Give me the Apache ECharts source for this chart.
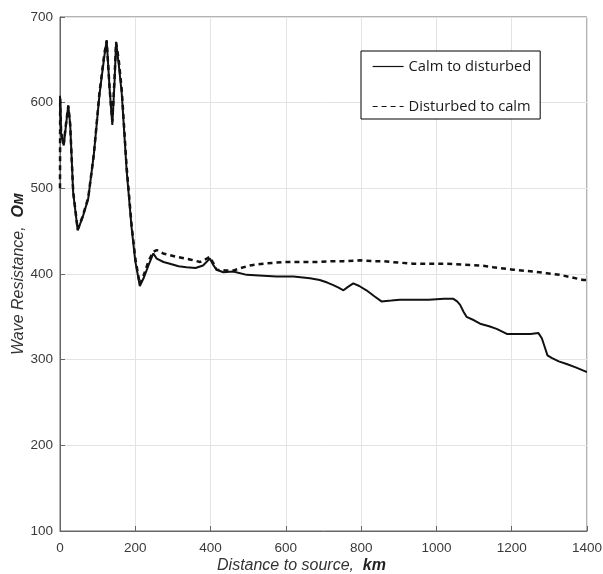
<!DOCTYPE html>
<html>
<head>
<meta charset="utf-8">
<script src="https://cdn.jsdelivr.net/npm/echarts@6/dist/echarts.min.js"></script>
<style>
  html, body { margin: 0; padding: 0; background: #fff; }
  #chart { width: 603px; height: 574px; }
</style>
</head>
<body>
<div id="chart"></div>
<script>
// [km, Ом]
const calmToDisturbed = [
  [0, 608], [3, 565], [6, 557], [10, 550], [15, 570], [22, 597], [27, 575], [35, 495],
  [47, 451], [60, 466], [75, 488], [90, 540], [105, 610], [118, 655], [124, 673], [132, 615],
  [139, 574], [145, 625], [149, 671], [156, 645], [164, 611], [177, 521], [190, 455], [200, 415],
  [212, 386], [222, 395], [235, 410], [248, 424], [257, 418], [275, 414], [292, 412], [315, 409],
  [336, 408], [360, 407], [380, 410], [398, 418], [408, 410], [416, 405], [434, 402], [460, 403],
  [496, 399], [540, 398], [575, 397], [620, 397], [664, 395], [690, 393], [710, 390], [726, 387],
  [740, 384], [753, 381], [765, 385], [779, 389], [795, 386], [814, 381], [835, 374], [854, 368],
  [880, 369], [903, 370], [940, 370], [980, 370], [1020, 371], [1045, 371], [1055, 368], [1063, 364],
  [1072, 356], [1080, 350], [1100, 346], [1116, 342], [1140, 339], [1160, 336], [1187, 330], [1220, 330],
  [1250, 330], [1271, 331], [1280, 325], [1289, 313], [1295, 305], [1306, 302], [1325, 298], [1346, 295],
  [1370, 291], [1397, 286], [1400, 286]
]
const disturbedToCalm = [
  [0, 500], [0.5, 605], [3, 565], [6, 560], [10, 552], [15, 572], [22, 596], [27, 575], [35, 496],
  [47, 452], [60, 467], [75, 489], [90, 540], [105, 612], [118, 658], [124, 672], [132, 615],
  [139, 578], [145, 630], [149, 670], [156, 650], [164, 615], [177, 525], [190, 458], [200, 418],
  [212, 388], [222, 398], [235, 415], [248, 426], [257, 428], [274, 424], [292, 422], [310, 420],
  [345, 417], [372, 414], [390, 418], [398, 420], [408, 412], [416, 405], [440, 404], [460, 404],
  [480, 407], [505, 410], [540, 412], [593, 414], [640, 414], [682, 414], [720, 415], [753, 415],
  [797, 416], [830, 415], [859, 415], [880, 414], [938, 412], [980, 412], [1027, 412], [1070, 411],
  [1116, 410], [1151, 408], [1204, 405], [1257, 403], [1293, 401], [1328, 399], [1360, 396],
  [1390, 393], [1400, 393]
]
const seriesNames = ['Calm to disturbed', 'Disturbed to calm']

const chart = echarts.init(document.getElementById('chart'))

const axisFont = 'Liberation Sans, Arial, sans-serif'
const axisText = { color: '#3a3a3a', fontSize: 13.5, fontFamily: axisFont }
const nameRich = {
  i: { fontStyle: 'italic', fontSize: 16, color: '#333', fontFamily: axisFont },
  b: { fontStyle: 'italic', fontWeight: 'bold', fontSize: 16, color: '#222', fontFamily: axisFont }
}

chart.setOption({
  animation: false,
  backgroundColor: '#fff',
  grid: {
    left: 60, right: 16, top: 17, bottom: 43,
    outerBoundsMode: 'none',
    containLabel: false,
    show: true, borderColor: '#666', borderWidth: 1
  },
  legend: {
    orient: 'vertical',
    left: 361, top: 51,
    padding: [8, 9, 5, 11],
    itemGap: 25,
    itemWidth: 31,
    itemHeight: 14,
    borderColor: '#000',
    borderWidth: 1,
    backgroundColor: '#fff',
    itemStyle: { opacity: 0 },
    lineStyle: { width: 1.2 },
    textStyle: { fontSize: 14.7, color: '#1a1a1a', fontFamily: 'Open Sans, sans-serif' },
    data: seriesNames
  },
  xAxis: {
    type: 'value',
    min: 0, max: 1400, interval: 200,
    name: '{i|Distance to source,  }{b|km}',
    nameLocation: 'middle',
    nameGap: 27,
    nameMoveOverlap: false,
    nameTextStyle: { rich: nameRich, padding: [0, 44, 0, 0] },
    axisLine: { show: true, lineStyle: { color: '#666' } },
    axisTick: { show: true, inside: true, length: 5, lineStyle: { color: '#666' } },
    axisLabel: Object.assign({ margin: 10, formatter: v => String(v) }, axisText),
    splitLine: { show: true, lineStyle: { color: '#e3e3e3' } }
  },
  yAxis: {
    type: 'value',
    min: 100, max: 700, interval: 100,
    name: '{i|Wave Resistance,  }{b|Ом}',
    nameLocation: 'middle',
    nameGap: 33,
    nameMoveOverlap: false,
    nameTextStyle: { rich: nameRich },
    axisLine: { show: true, lineStyle: { color: '#666' } },
    axisTick: { show: true, inside: true, length: 5, lineStyle: { color: '#666' } },
    axisLabel: Object.assign({ margin: 7 }, axisText),
    splitLine: { show: true, lineStyle: { color: '#e3e3e3' } }
  },
  series: [
    {
      name: seriesNames[0],
      type: 'line',
      data: calmToDisturbed,
      symbol: 'none',
      lineStyle: { color: '#111', width: 2, type: 'solid' },
      itemStyle: { color: '#111' },
      z: 3
    },
    {
      name: seriesNames[1],
      type: 'line',
      data: disturbedToCalm,
      symbol: 'none',
      lineStyle: { color: '#111', width: 2.5, type: [5, 4] },
      itemStyle: { color: '#111' },
      z: 2
    }
  ]
})
</script>
</body>
</html>
